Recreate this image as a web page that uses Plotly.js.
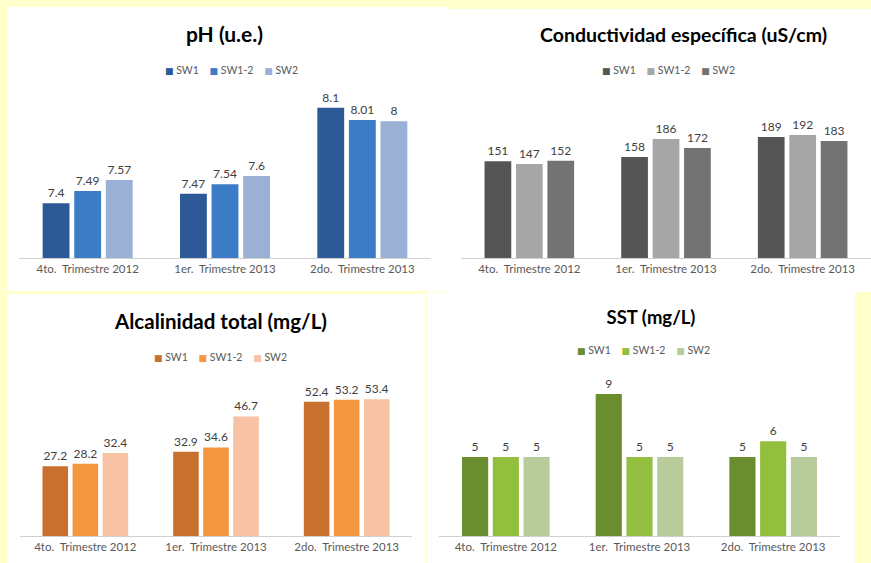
<!DOCTYPE html>
<html>
<head>
<meta charset="utf-8">
<script src="https://cdn.plot.ly/plotly-3.0.1.min.js"></script>
<style>
  html, body { margin: 0; padding: 0; background: #FFFFCC; width: 871px; height: 563px; overflow: hidden; }
  .panel { position: absolute; background: #ffffff; }
</style>
</head>
<body>
<div id="p2" class="panel" style="left:448px; top:9px; width:423px; height:283px;"></div>
<div id="p4" class="panel" style="left:427px; top:292px; width:428px; height:271px;"></div>
<div id="p1" class="panel" style="left:7px; top:7px; width:441px; height:284px;"></div>
<div id="p3" class="panel" style="left:7px; top:294px; width:419px; height:269px;"></div>
<script>
// ---- data ----
const categories = ['4to. Trimestre 2012', '1er. Trimestre 2013', '2do. Trimestre 2013'];
const tickLabels = ['4to.\u00A0 Trimestre 2012', '1er.\u00A0 Trimestre 2013', '2do.\u00A0 Trimestre 2013'];
const seriesNames = ['SW1', 'SW1-2', 'SW2'];

const phSW1  = [7.4, 7.47, 8.1];
const phSW12 = [7.49, 7.54, 8.01];
const phSW2  = [7.57, 7.6, 8];

const condSW1  = [151, 158, 189];
const condSW12 = [147, 186, 192];
const condSW2  = [152, 172, 183];

const alcSW1  = [27.2, 32.9, 52.4];
const alcSW12 = [28.2, 34.6, 53.2];
const alcSW2  = [32.4, 46.7, 53.4];

const sstSW1  = [5, 9, 5];
const sstSW12 = [5, 5, 6];
const sstSW2  = [5, 5, 5];

const titles = ['pH (u.e.)', 'Conductividad específica (uS/cm)', 'Alcalinidad total (mg/L)', 'SST (mg/L)'];

// ---- styles ----
const FONT = 'Lato, "Open Sans", sans-serif';
const palettes = {
  p1: ['#2D5A96', '#3C7BC6', '#9BB0D5'],
  p2: ['#555555', '#A6A6A6', '#737373'],
  p3: ['#C8702E', '#F3983F', '#F8C2A4'],
  p4: ['#6A8E2D', '#92BF3E', '#B8CB9B']
};

function draw(id, title, seriesData, colors, cfg) {
  const traces = seriesData.map((vals, i) => ({
    type: 'bar',
    name: seriesNames[i],
    x: categories,
    y: vals,
    text: vals.map(v => String(v)),
    textposition: 'outside',
    textfont: { family: FONT, size: 12, color: '#404040' },
    marker: { color: colors[i], line: { width: 0 } },
    hoverinfo: 'skip',
    showlegend: false
  }));
  const W = cfg.w, H = cfg.h, m = cfg.m;
  const pw = W - m.l - m.r, ph = H - m.t - m.b;
  const legendText = seriesNames.map((n, i) =>
    '<span style="color:' + colors[i] + ';font-family:DejaVu Sans;font-size:9px">\u25A0</span>\u00A0' + n
  ).join('\u00A0\u00A0\u00A0\u00A0');
  const layout = {
    width: W, height: H,
    margin: m,
    paper_bgcolor: '#ffffff',
    plot_bgcolor: '#ffffff',
    font: { family: FONT, color: '#595959' },
    title: {
      text: title,
      x: cfg.titleX / W, xanchor: 'center', xref: 'container',
      y: 1 - cfg.titleY / H, yanchor: 'middle', yref: 'container',
      font: { family: FONT, size: cfg.titleSize, color: '#000000', weight: 'bold' }
    },
    barmode: 'group',
    bargap: 0.31,
    bargroupgap: 0.15,
    showlegend: false,
    annotations: [{
      xref: 'paper', yref: 'paper',
      x: (cfg.legX - m.l) / pw, xanchor: 'center',
      y: 1 + (m.t - cfg.legY) / ph, yanchor: 'middle',
      text: legendText, showarrow: false,
      font: { family: FONT, size: 10.5, color: '#595959' }
    }],
    xaxis: {
      type: 'category',
      tickmode: 'array', tickvals: categories, ticktext: tickLabels,
      showline: true, linecolor: '#D0D0D0', linewidth: 1,
      ticks: '', showgrid: false, zeroline: false,
      tickfont: { family: FONT, size: 11.5, color: '#595959' }
    },
    yaxis: {
      visible: false, range: cfg.range, showgrid: false, zeroline: false, fixedrange: true
    },
    hovermode: false
  };
  Plotly.newPlot(id, traces, layout, { staticPlot: true, displayModeBar: false });
}

draw('p1', titles[0], [phSW1, phSW12, phSW2], palettes.p1, {
  w: 441, h: 284, m: { l: 12, r: 17, t: 72, b: 33 }, range: [7, 8.31],
  titleX: 217.5, titleY: 28, titleSize: 21, legX: 224, legY: 63
});
draw('p2', titles[1], [condSW1, condSW12, condSW2], palettes.p2, {
  w: 423, h: 283, m: { l: 13, r: 0, t: 89, b: 34 }, range: [0, 250],
  titleX: 235.5, titleY: 26, titleSize: 19.5, legX: 220.5, legY: 61
});
draw('p3', titles[2], [alcSW1, alcSW12, alcSW2], palettes.p3, {
  w: 419, h: 269, m: { l: 13, r: 14, t: 82, b: 27 }, range: [0, 62.5],
  titleX: 214, titleY: 28, titleSize: 20.5, legX: 213, legY: 63
});
draw('p4', titles[3], [sstSW1, sstSW12, sstSW2], palettes.p4, {
  w: 428, h: 271, m: { l: 12, r: 15, t: 83, b: 27 }, range: [0, 10.2],
  titleX: 224, titleY: 26, titleSize: 18.5, legX: 216.5, legY: 58
});
</script>
</body>
</html>
